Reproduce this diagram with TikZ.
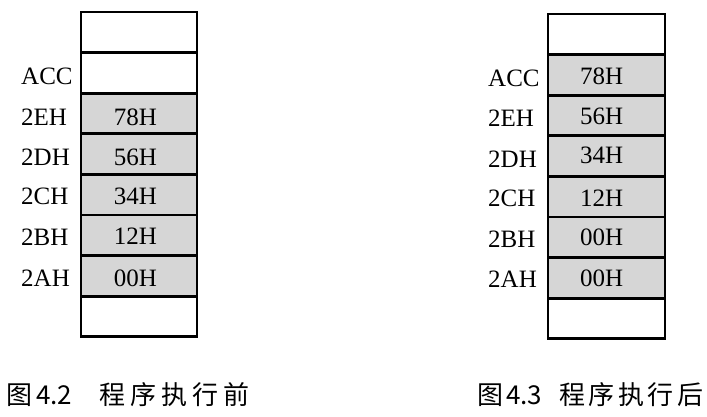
\documentclass[tikz,border=0pt]{standalone}
\usepackage{fontspec}
\setmainfont{Liberation Serif}
\newfontfamily\cjk{Noto Sans CJK SC}
\begin{document}
\begin{tikzpicture}[x=1pt,y=-1pt,
  cell/.style={draw, line width=2.8pt, minimum width=116pt, minimum height=40.6pt, inner sep=0pt, fill=white},
  full/.style={cell, fill=black!16},
  lab/.style={anchor=west, inner sep=0pt, font=\fontsize{25}{29}\selectfont},
  val/.style={inner sep=0pt, font=\fontsize{25}{29}\selectfont},
  captxt/.style={anchor=base west, inner sep=0pt, font=\cjk\fontsize{26}{30}\selectfont}]
\useasboundingbox (0,0) rectangle (707,417);
\fill[white] (0,0) rectangle (707,417);
% left column
\node[cell] (a0) at (139,32.3) {};
\node[cell] (a1) at (139,72.9) {};
\node[full] (a2) at (139,113.5) {};
\node[full] (a3) at (139,154.1) {};
\node[full] (a4) at (139,194.7) {};
\node[full] (a5) at (139,235.3) {};
\node[full] (a6) at (139,275.9) {};
\node[cell] (a7) at (139,316.5) {};
\node[val] (av2) at (135.5,117) {78H};
\node[val] (av3) at (135.5,157.5) {56H};
\node[val] (av4) at (135.5,196.7) {34H};
\node[val] (av5) at (135.5,236.5) {12H};
\node[val] (av6) at (135.5,278) {00H};
\node[lab] (al1) at (21,76.5) {ACC};
\node[lab] (al2) at (21,117) {2EH};
\node[lab] (al3) at (21,157.5) {2DH};
\node[lab] (al4) at (21,196.7) {2CH};
\node[lab] (al5) at (21,237.5) {2BH};
\node[lab] (al6) at (21,278) {2AH};
% right column
\node[cell, minimum width=117pt] (b0) at (606.5,34.3) {};
\node[full, minimum width=117pt] (b1) at (606.5,74.9) {};
\node[full, minimum width=117pt] (b2) at (606.5,115.5) {};
\node[full, minimum width=117pt] (b3) at (606.5,156.1) {};
\node[full, minimum width=117pt] (b4) at (606.5,196.7) {};
\node[full, minimum width=117pt] (b5) at (606.5,237.3) {};
\node[full, minimum width=117pt] (b6) at (606.5,277.9) {};
\node[cell, minimum width=117pt] (b7) at (606.5,318.5) {};
\node[val] (bv1) at (601.7,76.7) {78H};
\node[val] (bv2) at (601.7,116.7) {56H};
\node[val] (bv3) at (601.7,155) {34H};
\node[val] (bv4) at (601.7,198.5) {12H};
\node[val] (bv5) at (601.7,237) {00H};
\node[val] (bv6) at (601.7,278.5) {00H};
\node[lab] (bl1) at (488,78) {ACC};
\node[lab] (bl2) at (488,118.5) {2EH};
\node[lab] (bl3) at (488,159) {2DH};
\node[lab] (bl4) at (488,198.5) {2CH};
\node[lab] (bl5) at (488,239) {2BH};
\node[lab] (bl6) at (488,279) {2AH};
% captions
\node[captxt] (c1a) at (6,404) {图};
\node[captxt] (c1b) at (36,404) {4.2};
\node[captxt] (c1c) at (99,404) {程\hspace{5pt}序\hspace{5pt}执\hspace{5pt}行\hspace{5pt}前};
\node[captxt] (c2a) at (477,404) {图};
\node[captxt] (c2b) at (506,404) {4.3};
\node[captxt] (c2c) at (559,404) {程\hspace{3.5pt}序\hspace{3.5pt}执\hspace{3.5pt}行\hspace{3.5pt}后};
\end{tikzpicture}
\end{document}
